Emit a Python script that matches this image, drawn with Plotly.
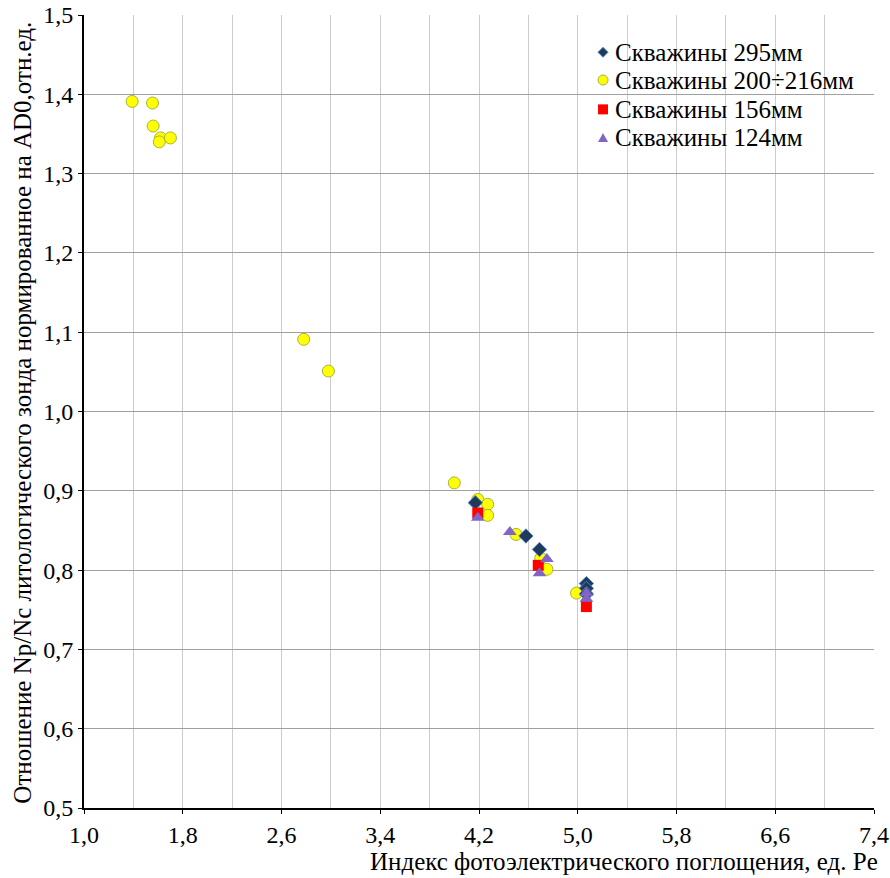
import plotly.graph_objects as go

# Data
x_295 = [4.17, 4.58, 4.69, 5.07, 5.07, 5.07]
y_295 = [0.885, 0.843, 0.826, 0.783, 0.777, 0.770]

x_200 = [1.39, 1.555, 1.56, 1.62, 1.61, 1.70, 2.78, 2.98, 4.00, 4.19, 4.27, 4.27, 4.50, 4.70, 4.75, 4.99]
y_200 = [1.391, 1.389, 1.360, 1.345, 1.340, 1.345, 1.091, 1.051, 0.910, 0.889, 0.883, 0.869, 0.845, 0.815, 0.801, 0.771]

x_156 = [4.19, 4.68, 5.07]
y_156 = [0.872, 0.806, 0.754]

x_124 = [4.19, 4.45, 4.75, 4.69, 5.07, 5.07]
y_124 = [0.866, 0.848, 0.814, 0.796, 0.764, 0.771]

names = ["Скважины 295мм", "Скважины 200÷216мм", "Скважины 156мм", "Скважины 124мм"]

FONT = "Liberation Serif"

styles = {
    "295": dict(symbol="diamond", color="#1F3A5A", line=dict(color="#4F81BD", width=1)),
    "200": dict(symbol="circle", color="#FFFF00", line=dict(color="#A5B43C", width=1)),
    "156": dict(symbol="square", color="#FF0000", line=dict(color="#E02020", width=0)),
    "124": dict(symbol="triangle-up", color="#8064C8", line=dict(color="#9070D0", width=0)),
}

fig = go.Figure()
fig.add_trace(go.Scatter(x=x_200, y=y_200, mode="markers", name=names[1], showlegend=False,
                         marker=dict(size=12, **styles["200"])))
fig.add_trace(go.Scatter(x=x_295, y=y_295, mode="markers", name=names[0], showlegend=False,
                         marker=dict(size=11, **styles["295"])))
fig.add_trace(go.Scatter(x=x_156, y=y_156, mode="markers", name=names[2], showlegend=False,
                         marker=dict(size=11, **styles["156"])))
fig.add_trace(go.Scatter(x=x_124, y=y_124, mode="markers", name=names[3], showlegend=False,
                         marker=dict(size=12, **styles["124"])))

# ---- manual legend (white box, symbols, labels) ----
leg_rows = [0.953, 0.918, 0.881, 0.845]
sym_x = 0.657
txt_x = 0.670
shapes = [dict(type="rect", xref="paper", yref="paper", x0=0.641, x1=0.998, y0=0.822, y1=0.972,
               fillcolor="white", line=dict(width=0), layer="between")]
# diamond
shapes.append(dict(type="path", xref="paper", yref="paper", xsizemode="pixel", ysizemode="pixel",
                   xanchor=sym_x, yanchor=leg_rows[0], path="M 0 5 L 5 0 L 0 -5 L -5 0 Z",
                   fillcolor="#1F3A5A", line=dict(color="#4F81BD", width=1), layer="above"))
# circle
shapes.append(dict(type="circle", xref="paper", yref="paper", xsizemode="pixel", ysizemode="pixel",
                   xanchor=sym_x, yanchor=leg_rows[1], x0=-5, x1=5, y0=-5, y1=5,
                   fillcolor="#FFFF00", line=dict(color="#A5B43C", width=1), layer="above"))
# square
shapes.append(dict(type="rect", xref="paper", yref="paper", xsizemode="pixel", ysizemode="pixel",
                   xanchor=sym_x, yanchor=leg_rows[2], x0=-5, x1=5, y0=-5, y1=5,
                   fillcolor="#FF0000", line=dict(width=0), layer="above"))
# triangle
shapes.append(dict(type="path", xref="paper", yref="paper", xsizemode="pixel", ysizemode="pixel",
                   xanchor=sym_x, yanchor=leg_rows[3], path="M -5 -4 L 5 -4 L 0 5 Z",
                   fillcolor="#8064C8", line=dict(width=0), layer="above"))

annotations = [
    dict(text=nm, xref="paper", yref="paper", x=txt_x, y=yy, xanchor="left", yanchor="middle",
         showarrow=False, font=dict(size=25, family=FONT, color="black"))
    for nm, yy in zip(names, leg_rows)
]
annotations += [
    dict(text="Индекс фотоэлектрического поглощения, ед. Pe", xref="paper", yref="paper",
         x=1.007, y=-0.067, xanchor="right", yanchor="middle", showarrow=False,
         font=dict(size=25, family=FONT)),
    dict(text="Отношение Np/Nc литологического зонда нормированное на AD0,отн.ед.",
         xref="paper", yref="paper", x=-0.079, y=0.498, xanchor="center", yanchor="middle",
         textangle=-90, showarrow=False, font=dict(size=25, family=FONT)),
]

fig.update_layout(
    width=890, height=878,
    margin=dict(l=84, r=16, t=15, b=70, autoexpand=False),
    paper_bgcolor="white", plot_bgcolor="white",
    separators=", ",
    font=dict(family=FONT, size=24, color="black"),
    showlegend=False,
    xaxis=dict(range=[1.0, 7.4], dtick=0.8, tick0=1.0, tickformat=".1f",
               showgrid=True, gridcolor="#CCCCCC", gridwidth=1,
               minor=dict(dtick=0.4, tick0=1.0, showgrid=True, gridcolor="#CCCCCC", gridwidth=1),
               showline=True, linecolor="black", linewidth=2,
               ticks="outside", ticklen=4, tickcolor="black",
               zeroline=False, automargin=False, tickfont=dict(size=24, family=FONT)),
    yaxis=dict(range=[0.5, 1.5], dtick=0.1, tick0=0.5, tickformat=".1f",
               showgrid=True, gridcolor="#A0A0A0", gridwidth=1,
               showline=True, linecolor="black", linewidth=2,
               ticks="outside", ticklen=4, tickcolor="black",
               zeroline=False, automargin=False, tickfont=dict(size=24, family=FONT)),
    shapes=shapes,
    annotations=annotations,
)

fig.write_html("out.html")
